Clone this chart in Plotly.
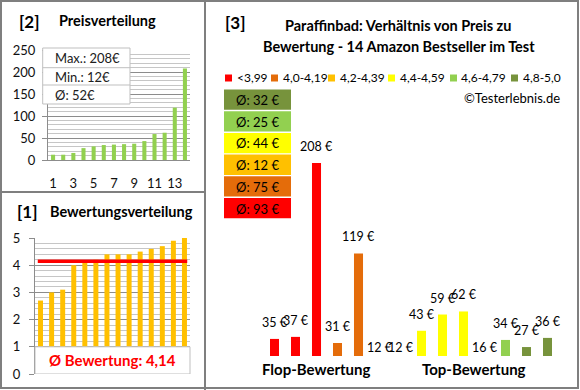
import plotly.graph_objects as go

W, H = 580, 390
FONT = "Lato"
GRID_MAJOR = "#8C8C8C"
GRID_MINOR = "#C6C6C6"
FRAME = "#7F7F7F"

# ---------------- data ----------------
price_sorted = [12, 12, 16, 27, 31, 34, 35, 36, 37, 43, 59, 62, 119, 208]
rating_sorted = [2.7, 3.0, 3.1, 4.0, 4.1, 4.2, 4.4, 4.4, 4.4, 4.5, 4.6, 4.7, 4.9, 5.0]
product_prices = [35, 37, 208, 31, 119, 12, 12, 43, 59, 62, 16, 34, 27, 36]
product_groups = [0, 0, 0, 1, 1, 2, 3, 3, 3, 3, 4, 4, 5, 5]
group_labels = ["<3,99", "4,0-4,19", "4,2-4,39", "4,4-4,59", "4,6-4,79", "4,8-5,0"]
group_colors = ["#FF0000", "#E46C0A", "#FFC000", "#FFFF00", "#92D050", "#77933C"]
group_avg = [93, 75, 12, 44, 25, 32]
category_labels = ["Flop-Bewertung", "Top-Bewertung"]
category_pos = [2, 9.5]
price_ticks = [1, 3, 5, 7, 9, 11, 13]


def px(x):
    return x / W


def py(y):
    return 1 - y / H


fig = go.Figure()

# [2] price distribution
n = len(price_sorted)
fig.add_trace(go.Bar(x=list(range(1, n + 1)), y=price_sorted, width=0.4,
                     marker=dict(color="#92D050", line=dict(width=0)),
                     xaxis="x", yaxis="y", showlegend=False, hoverinfo="skip"))

# [1] rating distribution
fig.add_trace(go.Bar(x=list(range(1, n + 1)), y=rating_sorted, width=0.45,
                     marker=dict(color="#FFC000", line=dict(width=0)),
                     xaxis="x2", yaxis="y2", showlegend=False, hoverinfo="skip"))
avg_rating = sum(rating_sorted) / len(rating_sorted)
fig.add_trace(go.Scatter(x=[0.75, n + 0.25], y=[avg_rating, avg_rating], mode="lines",
                         line=dict(color="#FF0000", width=3.5),
                         xaxis="x2", yaxis="y2", showlegend=False, hoverinfo="skip"))

# [3] price vs rating
Y3_MIN, Y3_MAX = 18.2, 230.6
fig.add_trace(go.Bar(x=list(range(len(product_prices))), y=product_prices, width=0.43,
                     marker=dict(color=[group_colors[g] for g in product_groups], line=dict(width=0)),
                     xaxis="x3", yaxis="y3", showlegend=False, hoverinfo="skip"))

shapes = []
annotations = []

# frame
shapes.append(dict(type="rect", xref="paper", yref="paper", x0=px(1), x1=px(578), y0=py(1), y1=py(388),
                   line=dict(color=FRAME, width=2), layer="above"))
shapes.append(dict(type="line", xref="paper", yref="paper", x0=px(205), x1=px(205), y0=py(0), y1=py(390),
                   line=dict(color=FRAME, width=2), layer="above"))
shapes.append(dict(type="line", xref="paper", yref="paper", x0=px(0), x1=px(205), y0=py(192), y1=py(192),
                   line=dict(color=FRAME, width=2), layer="above"))


def txt(x, y, s, size=13, bold=False, color="#000000", xanchor="center", yanchor="middle"):
    annotations.append(dict(xref="paper", yref="paper", x=px(x), y=py(y), text=("<b>%s</b>" % s) if bold else s,
                            showarrow=False, xanchor=xanchor, yanchor=yanchor,
                            font=dict(family=FONT, size=size, color=color)))


# panel titles
txt(17, 21, "[2]", size=17, bold=True, xanchor="left")
txt(57, 20, "Preisverteilung", size=14.5, bold=True, xanchor="left")
txt(15, 212, "[1]", size=17, bold=True, xanchor="left")
txt(48, 212, "Bewertungsverteilung", size=14.5, bold=True, xanchor="left")
txt(223, 22, "[3]", size=17, bold=True, xanchor="left")
txt(398, 26, "Paraffinbad: Verhältnis von Preis zu", size=14.5, bold=True)
txt(399, 46, "Bewertung - 14 Amazon Bestseller im Test", size=14.5, bold=True)
txt(562, 98, "©Testerlebnis.de", size=13, xanchor="right")

# price stats box
stats = ["Max.: %d€" % max(price_sorted), "Min.: %d€" % min(price_sorted),
         "Ø: %d€" % round(sum(price_sorted) / len(price_sorted))]
box_rows = [(48, 67.7), (67.7, 85), (85, 104)]
shapes.append(dict(type="rect", xref="paper", yref="paper", x0=px(42.7), x1=px(130), y0=py(104), y1=py(48),
                   fillcolor="white", line=dict(color="#BFBFBF", width=1), layer="above"))
for (t, b), s in zip(box_rows, stats):
    if t > 48:
        shapes.append(dict(type="line", xref="paper", yref="paper", x0=px(42.7), x1=px(130), y0=py(t), y1=py(t),
                           line=dict(color="#BFBFBF", width=1), layer="above"))
    txt(52.5, (t + b) / 2 + 0.5, s, size=13, color="#202020", xanchor="left")

# rating box
shapes.append(dict(type="rect", xref="x2 domain", yref="y2", x0=0, x1=1, y0=0, y1=1,
                   fillcolor="white", line=dict(color="#BFBFBF", width=1), layer="above"))
annotations.append(dict(xref="x2 domain", yref="y2", x=0.5, y=0.5, yanchor="middle",
                        text="<b>Ø Bewertung: %s</b>" % ("%.2f" % avg_rating).replace(".", ","),
                        showarrow=False, font=dict(family=FONT, size=15, color="#FF0000")))

# legend
legend_sq_x = [225, 271, 328, 388, 450, 511]
for lx, lab, col in zip(legend_sq_x, group_labels, group_colors):
    shapes.append(dict(type="rect", xref="paper", yref="paper", x0=px(lx), x1=px(lx + 7), y0=py(81.5), y1=py(74.5),
                       fillcolor=col, line=dict(width=0)))
    txt(lx + 9.5, 78, lab, size=12, xanchor="left")

# average boxes (top: best group)
for k, gi in enumerate(reversed(range(len(group_avg)))):
    top = 89.5 + k * 21.7
    shapes.append(dict(type="rect", xref="paper", yref="paper", x0=px(224), x1=px(291), y0=py(top + 20.3), y1=py(top),
                       fillcolor=group_colors[gi], line=dict(width=0)))
    txt(234, top + 10.5, "Ø: %d €" % group_avg[gi], size=13, xanchor="left")

# bar labels
for i, v in enumerate(product_prices):
    annotations.append(dict(xref="x3", yref="y3", x=i, y=max(v, Y3_MIN), text="%d €" % v, showarrow=False,
                            xanchor="center", yanchor="bottom", yshift=7 if v > Y3_MIN else -1,
                            font=dict(family=FONT, size=12.5, color="#000000")))

for lab, pos in zip(category_labels, category_pos):
    annotations.append(dict(xref="x3", yref="paper", x=pos, y=py(369), xanchor="center", yanchor="middle",
                            text="<b>%s</b>" % lab, showarrow=False,
                            font=dict(family=FONT, size=15, color="#000000")))

axis_font = dict(family=FONT, size=13, color="#101010")

fig.update_layout(
    autosize=True, margin=dict(l=0, r=0, t=0, b=0, autoexpand=False),
    paper_bgcolor="white", plot_bgcolor="white",
    font=dict(family=FONT, size=13, color="#000"),
    shapes=shapes, annotations=annotations, showlegend=False,
    xaxis=dict(domain=[px(48), px(190)], range=[0.5, n + 0.5], anchor="y", tickvals=price_ticks,
               ticktext=[str(t) for t in price_ticks], showgrid=False, zeroline=False, showline=True,
               linecolor=GRID_MAJOR, ticks="", tickfont=axis_font, ticklabelstandoff=11, fixedrange=True),
    yaxis=dict(domain=[py(160), py(50)], range=[0, 250], anchor="x", dtick=50, showgrid=True,
               gridcolor=GRID_MAJOR, minor=dict(dtick=10, showgrid=True, gridcolor=GRID_MINOR),
               zeroline=False, showline=True, linecolor=GRID_MAJOR, ticks="outside", ticklen=5,
               tickcolor=GRID_MAJOR, tickfont=axis_font, ticklabelstandoff=4, fixedrange=True),
    xaxis2=dict(domain=[px(35), px(190)], range=[0.5, n + 0.5], anchor="y2", showticklabels=False,
                showgrid=False, zeroline=False, showline=False, ticks="", fixedrange=True),
    yaxis2=dict(domain=[py(374), py(238)], range=[0, 5], anchor="x2", dtick=1, showgrid=True,
                gridcolor=GRID_MAJOR, minor=dict(dtick=0.2, showgrid=True, gridcolor=GRID_MINOR),
                zeroline=False, showline=True, linecolor=GRID_MAJOR, ticks="outside", ticklen=5,
                tickcolor=GRID_MAJOR, tickfont=axis_font, ticklabelstandoff=6, fixedrange=True),
    xaxis3=dict(domain=[px(264), px(558)], range=[-0.5, len(product_prices) - 0.5], anchor="y3",
                visible=False, fixedrange=True),
    yaxis3=dict(domain=[py(356), py(140)], range=[Y3_MIN, Y3_MAX], anchor="x3", visible=False, fixedrange=True),
)

fig.write_html("out.html", config={"displayModeBar": False, "responsive": False},
               default_width="580px;position:fixed;left:0;top:0;margin:0",
               default_height="390px")
